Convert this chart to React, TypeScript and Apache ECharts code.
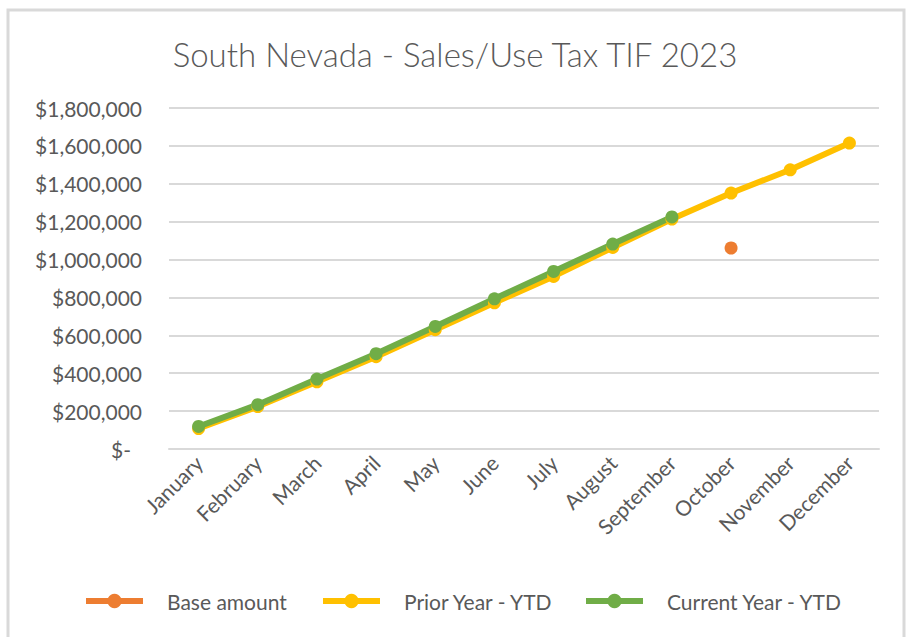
import React, { useEffect, useRef } from "react";
import * as echarts from "echarts";

const months = ["January", "February", "March", "April", "May", "June", "July", "August", "September", "October", "November", "December"];
const baseAmount: (number | null)[] = [null, null, null, null, null, null, null, null, null, 1061000, null, null];
const priorYear: number[] = [108000, 224000, 355000, 487000, 630000, 772000, 911000, 1064000, 1214000, 1351000, 1474000, 1615000];
const currentYear: (number | null)[] = [119000, 234000, 369000, 503000, 647000, 793000, 937000, 1082000, 1225000, null, null, null];

const seriesNames = ["Base amount", "Prior Year - YTD", "Current Year - YTD"];
const seriesColors = ["#ED7D31", "#FFC000", "#70AD47"];

const FONT = "Lato, 'Open Sans', sans-serif";
const TXT = "#595959";

export default function App() {
  const ref = useRef<HTMLDivElement>(null);
  useEffect(() => {
    const chart = echarts.init(ref.current!, null, { renderer: "svg" });
    const fmt = (v: number) => (v === 0 ? "{z|$-}" : "$" + v.toLocaleString("en-US"));
    const legendLefts = [78, 315, 578];
    chart.setOption({
      animation: false,
      backgroundColor: "#ffffff",
      title: {
        text: "South Nevada - Sales/Use Tax TIF 2023",
        left: "center",
        top: 32,
        textStyle: { fontFamily: FONT, fontSize: 33, fontWeight: 300, color: TXT },
      },
      graphic: [
        {
          type: "rect",
          shape: { x: 8, y: 10, width: 896, height: 640 },
          style: { fill: "none", stroke: "#D9D9D9", lineWidth: 3 },
          z: 0,
        },
      ],
      grid: { left: 169, right: 31, top: 108, bottom: 188, containLabel: false },
      legend: seriesNames.map((n, i) => ({
        data: [n],
        left: legendLefts[i],
        top: 583,
        itemWidth: 57,
        itemHeight: 18,
        lineStyle: { width: 6 },
        textStyle: { fontFamily: FONT, fontSize: 21, lineHeight: 26, color: TXT, padding: [0, 0, 0, 19] },
      })),
      xAxis: {
        type: "category",
        data: months,
        boundaryGap: true,
        axisLine: { show: true, lineStyle: { color: "#D9D9D9", width: 2 } },
        axisTick: { show: false },
        axisLabel: { rotate: 45, fontFamily: FONT, fontSize: 21, color: TXT, margin: 10, interval: 0 },
      },
      yAxis: {
        type: "value",
        min: 0,
        max: 1800000,
        interval: 200000,
        axisLine: { show: false },
        axisTick: { show: false },
        splitLine: { lineStyle: { color: "#D9D9D9", width: 2 } },
        axisLabel: {
          fontFamily: FONT,
          fontSize: 21,
          color: TXT,
          margin: 27,
          formatter: fmt,
          rich: { z: { fontFamily: FONT, fontSize: 21, color: TXT, padding: [0, 11, 0, 0] } },
        },
      },
      series: [
        {
          name: seriesNames[0],
          type: "line",
          data: baseAmount,
          symbol: "circle",
          symbolSize: 13,
          lineStyle: { width: 6, color: seriesColors[0] },
          itemStyle: { color: seriesColors[0] },
          connectNulls: false,
        },
        {
          name: seriesNames[1],
          type: "line",
          data: priorYear,
          symbol: "circle",
          symbolSize: 13,
          lineStyle: { width: 6, color: seriesColors[1] },
          itemStyle: { color: seriesColors[1] },
        },
        {
          name: seriesNames[2],
          type: "line",
          data: currentYear,
          symbol: "circle",
          symbolSize: 13,
          lineStyle: { width: 6, color: seriesColors[2] },
          itemStyle: { color: seriesColors[2] },
        },
      ],
    });
    return () => chart.dispose();
  }, []);
  return (
    <div
      ref={ref}
      style={{ position: "absolute", left: 0, top: 0, width: 910, height: 637, background: "#fff" }}
    />
  );
}
